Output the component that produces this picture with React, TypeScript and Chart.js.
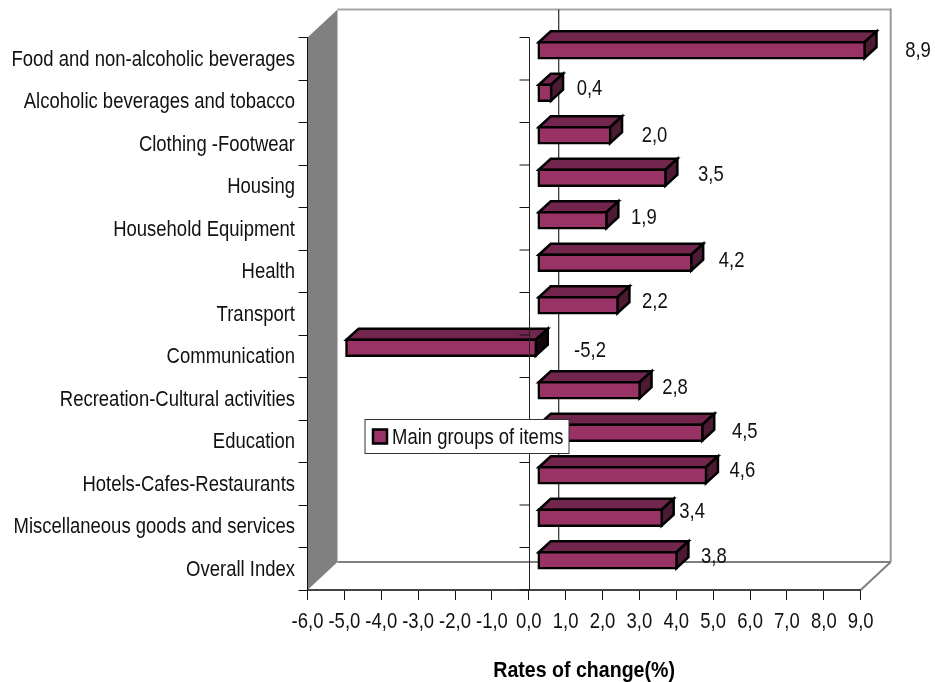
import React, { useEffect, useRef } from "react";
import { Chart, registerables } from "chart.js";

Chart.register(...registerables);

const categories = [
  "Food and non-alcoholic beverages",
  "Alcoholic beverages and tobacco",
  "Clothing -Footwear",
  "Housing",
  "Household Equipment",
  "Health",
  "Transport",
  "Communication",
  "Recreation-Cultural activities",
  "Education",
  "Hotels-Cafes-Restaurants",
  "Miscellaneous goods and services",
  "Overall Index",
];
const values = [8.9, 0.4, 2.0, 3.5, 1.9, 4.2, 2.2, -5.2, 2.8, 4.5, 4.6, 3.4, 3.8];
const seriesName = "Main groups of items";
const axisTitle = "Rates of change(%)";

// hand-placed data label offsets, as in the source chart (px from bar end / band centre)
const labelDx = [61, 46, 52, 53, 45, 48, 45, 253, 43, 50, 44, 38, 45];
const labelDy = [-9, -13, -9, -12, -12, -11, -13, -6, -12, -10, -14, -15, -13];

const FONT = '"Liberation Sans", Arial, sans-serif';
const FS = 22;
const NARROW = 0.84;
const NARROW_BOLD = 0.89;
const fmt = (v: number) => v.toFixed(1).replace(".", ",");

const FRONT = "#993366";
const TOP = "#73264d";
const SIDE = "#4d1a33";

const WALL_DX = 30;
const WALL_DY = -28;
const BAR_DX = 8.5;
const BAR_DY = -8.5;
const DEPTH_DX = 12;
const DEPTH_DY = -11;
const BORDER = 2.5;

const face = (ctx: CanvasRenderingContext2D, pts: number[][], fill: string, stroke: string, lw: number) => {
  ctx.beginPath();
  pts.forEach((p, i) => (i ? ctx.lineTo(p[0], p[1]) : ctx.moveTo(p[0], p[1])));
  ctx.closePath();
  ctx.fillStyle = fill;
  ctx.fill();
  if (lw > 0) {
    ctx.strokeStyle = stroke;
    ctx.lineWidth = lw;
    ctx.lineJoin = "miter";
    ctx.stroke();
  }
};

const line = (ctx: CanvasRenderingContext2D, x1: number, y1: number, x2: number, y2: number, color: string, lw: number) => {
  ctx.beginPath();
  ctx.moveTo(x1, y1);
  ctx.lineTo(x2, y2);
  ctx.strokeStyle = color;
  ctx.lineWidth = lw;
  ctx.stroke();
};

// The source uses a narrow sans that is not installed: condense all canvas text horizontally.
const condenseText = (ctx: any) => {
  const orig = ctx.fillText.bind(ctx);
  ctx.fillText = (t: string, x: number, y: number) => {
    ctx.save();
    ctx.translate(x, y + 1);
    ctx.scale(String(ctx.font).includes("bold") ? NARROW_BOLD : NARROW, 1);
    orig(t, 0, 0);
    ctx.restore();
  };
};

const threeD = {
  id: "threeD",
  beforeDraw(chart: any) {
    const { ctx, chartArea: a, scales } = chart;
    const zero = scales.x.getPixelForValue(0);
    ctx.save();
    ctx.fillStyle = "#ffffff";
    ctx.fillRect(0, 0, chart.width, chart.height);
    // left wall
    face(ctx, [[a.left, a.top], [a.left + WALL_DX, a.top + WALL_DY], [a.left + WALL_DX, a.bottom + WALL_DY], [a.left, a.bottom]], "#808080", "#808080", 0);
    // back wall frame
    line(ctx, a.left + WALL_DX, a.top + WALL_DY, a.right + WALL_DX, a.top + WALL_DY, "#a6a6a6", 2);
    line(ctx, a.right + WALL_DX, a.top + WALL_DY - 1, a.right + WALL_DX, a.bottom + WALL_DY, "#999999", 2);
    line(ctx, a.left + WALL_DX, a.bottom + WALL_DY, a.right + WALL_DX, a.bottom + WALL_DY, "#808080", 2);
    line(ctx, a.right, a.bottom, a.right + WALL_DX, a.bottom + WALL_DY, "#808080", 2);
    // zero gridline on the back wall
    line(ctx, zero + WALL_DX, a.top + WALL_DY, zero + WALL_DX, a.bottom + WALL_DY, "#000000", 1);
    ctx.restore();
  },
  beforeDatasetDraw(chart: any, args: any) {
    const { ctx } = chart;
    ctx.save();
    ctx.translate(BAR_DX, BAR_DY);
    args.meta.data.forEach((bar: any, i: number) => {
      const h = bar.height / 2;
      const r = Math.max(bar.x, bar.base);
      const l = Math.min(bar.x, bar.base);
      const t = bar.y - h + 1;
      const b = bar.y + h - 1;
      face(ctx, [[l + 1, t], [l + 1 + DEPTH_DX, t + DEPTH_DY], [r + DEPTH_DX - 1, t + DEPTH_DY], [r - 1, t]], TOP, "#000000", BORDER);
      face(ctx, [[r - 1, t], [r - 1 + DEPTH_DX, t + DEPTH_DY], [r - 1 + DEPTH_DX, b + DEPTH_DY], [r - 1, b]], values[i] < 0 ? "#14060d" : SIDE, "#000000", BORDER);
    });
  },
  afterDatasetDraw(chart: any) {
    chart.ctx.restore();
  },
  afterDatasetsDraw(chart: any) {
    const { ctx, chartArea: a, scales } = chart;
    const zero = Math.round(scales.x.getPixelForValue(0)) + 0.5;
    ctx.save();
    line(ctx, zero, a.top, zero, a.bottom, "#222222", 1);
    const step = (a.bottom - a.top) / categories.length;
    for (let i = 0; i <= categories.length; i++) {
      const y = a.top + i * step;
      line(ctx, zero - 10, y, zero, y, "#111111", 1);
    }
    // data labels
    ctx.font = `${FS}px ${FONT}`;
    ctx.fillStyle = "#111111";
    ctx.textAlign = "center";
    ctx.textBaseline = "middle";
    values.forEach((v, i) => {
      ctx.fillText(fmt(v), scales.x.getPixelForValue(v) + labelDx[i], scales.y.getPixelForValue(i) + labelDy[i]);
    });
    ctx.restore();
  },
  afterDraw(chart: any) {
    const { ctx, chartArea: a } = chart;
    const x = a.left + 57.5;
    const y = a.top + 382;
    ctx.save();
    ctx.fillStyle = "#ffffff";
    ctx.fillRect(x, y, 204, 34);
    ctx.strokeStyle = "#333333";
    ctx.lineWidth = 1;
    ctx.strokeRect(x, y, 204, 34);
    ctx.fillStyle = FRONT;
    ctx.fillRect(x + 8, y + 10, 14, 14);
    ctx.strokeStyle = "#000000";
    ctx.lineWidth = 2.5;
    ctx.strokeRect(x + 8, y + 10, 14, 14);
    ctx.font = `${FS}px ${FONT}`;
    ctx.fillStyle = "#111111";
    ctx.textAlign = "left";
    ctx.textBaseline = "middle";
    ctx.fillText(chart.data.datasets[0].label, x + 27, y + 17);
    ctx.restore();
  },
};

export default function App() {
  const ref = useRef<HTMLCanvasElement>(null);
  useEffect(() => {
    const canvas = ref.current as HTMLCanvasElement;
    condenseText(canvas.getContext("2d"));
    const chart = new Chart(canvas, {
      type: "bar",
      data: {
        labels: categories,
        datasets: [
          {
            label: seriesName,
            data: values,
            backgroundColor: FRONT,
            borderColor: "#000000",
            borderWidth: BORDER,
            borderSkipped: false,
            barThickness: 18,
            clip: false,
          } as any,
        ],
      },
      plugins: [threeD],
      options: {
        indexAxis: "y",
        responsive: false,
        animation: false,
        layout: { padding: { left: 0, top: 37.5, right: 74.3, bottom: 0 } },
        plugins: { legend: { display: false }, tooltip: { enabled: false } },
        scales: {
          x: {
            type: "linear",
            min: -6,
            max: 9,
            afterFit: (s: any) => {
              s.height = 92;
            },
            grid: { drawOnChartArea: false, tickLength: 10, color: "#111111", tickColor: "#111111" },
            border: { color: "#444444", width: 2 },
            ticks: {
              stepSize: 1,
              maxRotation: 0,
              minRotation: 0,
              autoSkip: false,
              padding: 8,
              color: "#111111",
              font: { family: FONT, size: FS },
              callback: (v: any) => fmt(Number(v)),
            },
            title: {
              display: true,
              text: axisTitle,
              color: "#000000",
              font: { family: FONT, size: 22, weight: "bold" },
              padding: { top: 14, bottom: -1 },
            },
          },
          y: {
            type: "category",
            afterFit: (s: any) => {
              s.width = 307.5;
            },
            grid: { offset: true, drawOnChartArea: false, tickLength: 9, color: "#111111" },
            border: { color: "#111111", width: 1 },
            ticks: {
              autoSkip: false,
              padding: 3.5,
              color: "#111111",
              font: { family: FONT, size: FS },
            },
          },
        },
      } as any,
    });
    return () => chart.destroy();
  }, []);
  return (
    <div style={{ position: "absolute", left: 0, top: 0, width: 935, height: 682 }}>
      <canvas ref={ref} width={935} height={682} style={{ display: "block" }} />
    </div>
  );
}
